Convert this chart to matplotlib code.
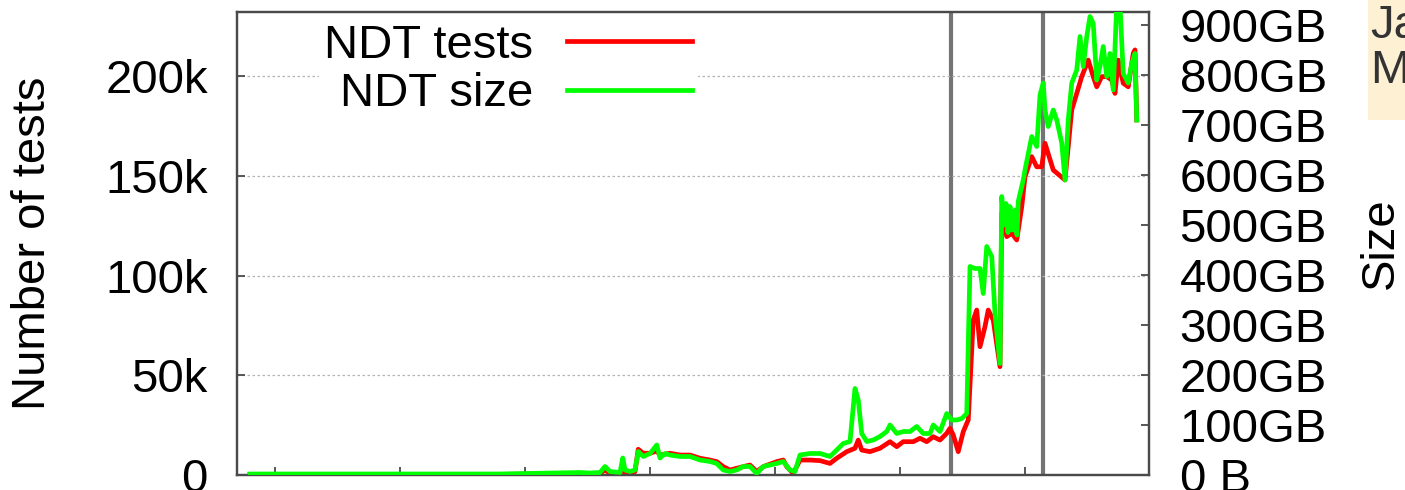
import numpy as np
import matplotlib
matplotlib.use('Agg')
import matplotlib.pyplot as plt
from matplotlib.ticker import FuncFormatter
from matplotlib.patches import Rectangle

plt.rcParams['font.family'] = ['Liberation Sans', 'DejaVu Sans']

# NDT tests per week (thousands)
tests_x = [2008.800, 2009.200, 2010.000, 2010.800, 2011.440, 2011.600, 2011.640, 2011.680, 2011.760, 2011.782,
           2011.800, 2011.880, 2011.906, 2011.946, 2012.000, 2012.054, 2012.080, 2012.160, 2012.240, 2012.320,
           2012.400, 2012.480, 2012.534, 2012.586, 2012.640, 2012.746, 2012.800, 2012.854, 2012.906, 2013.014,
           2013.066, 2013.094, 2013.146, 2013.200, 2013.280, 2013.360, 2013.440, 2013.494, 2013.574, 2013.640,
           2013.666, 2013.694, 2013.760, 2013.840, 2013.920, 2013.974, 2014.026, 2014.106, 2014.160, 2014.214,
           2014.266, 2014.320, 2014.374, 2014.400, 2014.426, 2014.466, 2014.506, 2014.546, 2014.586, 2014.614,
           2014.640, 2014.680, 2014.706, 2014.746, 2014.800, 2014.814, 2014.854, 2014.894, 2014.934, 2014.974,
           2015.000, 2015.054, 2015.094, 2015.134, 2015.160, 2015.226, 2015.320, 2015.374, 2015.414, 2015.454,
           2015.506, 2015.546, 2015.574, 2015.614, 2015.654, 2015.694, 2015.720, 2015.746, 2015.786, 2015.826,
           2015.866, 2015.880, 2015.894]
tests_k = [0.3, 0.3, 0.3, 0.3, 0.8, 0.8, 2.5, 0.8, 0.8, 4.2,
           1.0, 1.7, 12.9, 10.9, 10.9, 12.0, 10.0, 10.9, 10.0, 10.0,
           8.4, 7.5, 6.7, 4.2, 2.5, 4.2, 5.0, 1.7, 4.2, 6.7,
           7.5, 4.2, 0.8, 7.5, 7.5, 7.2, 5.8, 8.4, 11.7, 13.4,
           17.5, 12.5, 11.7, 13.4, 16.7, 14.2, 16.7, 16.7, 18.4, 16.7,
           19.2, 17.5, 20.9, 23.4, 20.1, 11.7, 21.7, 27.6, 77.7, 82.7,
           64.3, 74.4, 82.7, 77.7, 54.3, 131.2, 119.5, 121.2, 117.8, 134.5,
           149.5, 159.6, 154.5, 154.5, 166.3, 152.9, 147.9, 183.0, 191.3, 199.7,
           208.0, 199.7, 194.6, 199.7, 199.7, 198.0, 191.3, 208.0, 196.4, 194.6,
           211.4, 213.1, 178.0]

# NDT data size per week (GB)
size_x = [2008.800, 2009.200, 2010.000, 2010.800, 2011.440, 2011.520, 2011.600, 2011.640, 2011.680, 2011.760,
          2011.782, 2011.800, 2011.840, 2011.880, 2011.906, 2011.946, 2012.000, 2012.054, 2012.080, 2012.120,
          2012.160, 2012.240, 2012.320, 2012.400, 2012.480, 2012.534, 2012.586, 2012.640, 2012.694, 2012.746,
          2012.800, 2012.854, 2012.906, 2012.960, 2013.014, 2013.066, 2013.120, 2013.160, 2013.200, 2013.280,
          2013.360, 2013.440, 2013.494, 2013.546, 2013.600, 2013.640, 2013.666, 2013.694, 2013.734, 2013.786,
          2013.840, 2013.894, 2013.920, 2013.974, 2014.026, 2014.080, 2014.134, 2014.186, 2014.240, 2014.266,
          2014.320, 2014.374, 2014.414, 2014.454, 2014.494, 2014.534, 2014.560, 2014.600, 2014.640, 2014.666,
          2014.694, 2014.734, 2014.760, 2014.800, 2014.814, 2014.832, 2014.848, 2014.864, 2014.880, 2014.896,
          2014.920, 2014.936, 2014.946, 2014.986, 2015.000, 2015.054, 2015.094, 2015.120, 2015.146, 2015.160,
          2015.186, 2015.226, 2015.254, 2015.294, 2015.320, 2015.346, 2015.374, 2015.414, 2015.440, 2015.466,
          2015.494, 2015.520, 2015.546, 2015.574, 2015.600, 2015.626, 2015.654, 2015.680, 2015.706, 2015.734,
          2015.760, 2015.786, 2015.826, 2015.854, 2015.880, 2015.894]
size_gb = [2, 2, 2, 2, 5, 4, 5, 17, 7, 5,
           34, 10, 7, 10, 47, 37, 43, 60, 34, 43,
           40, 37, 37, 30, 27, 23, 10, 7, 10, 17,
           17, 3, 17, 20, 23, 27, 10, 7, 40, 43,
           43, 37, 50, 63, 67, 173, 150, 83, 67, 70,
           77, 87, 100, 83, 87, 87, 97, 83, 83, 100,
           87, 123, 110, 110, 113, 123, 417, 413, 413, 363,
           457, 437, 323, 223, 557, 500, 543, 485, 537, 490,
           530, 480, 547, 590, 610, 677, 657, 760, 784, 730,
           697, 730, 710, 664, 590, 710, 784, 810, 877, 817,
           877, 917, 903, 790, 817, 857, 797, 843, 770, 940,
           940, 803, 784, 823, 843, 710]

events = [2014.408, 2015.144]
year_ticks = [2009, 2010, 2011, 2012, 2013, 2014, 2015]
left_ticks = [0, 50, 100, 150, 200]
right_ticks = [0, 100, 200, 300, 400, 500, 600, 700, 800, 900]

fs = 34
edge = '#4a4a4a'

fig = plt.figure(figsize=(14.05, 4.9), dpi=100)
ax = fig.add_axes([0.16868, 0.030612, 0.64911, 0.944898])
ax2 = ax.twinx()

for e in events:
    ax.axvline(e, color='#747474', lw=3.0, zorder=1)

l1, = ax.plot(tests_x, tests_k, color='#ff0000', lw=3.4, solid_joinstyle='round', zorder=3)
l2, = ax2.plot(size_x, size_gb, color='#00ff00', lw=3.4, solid_joinstyle='round', zorder=3)

ax.set_xlim(2008.696, 2015.992)
ax.set_ylim(0, 232.1)
ax2.set_ylim(0, 926)

ax.set_xticks(year_ticks)
ax.set_xticklabels([])
ax.set_yticks(left_ticks)
ax.yaxis.set_major_formatter(FuncFormatter(lambda v, p: '0' if v == 0 else '%dk' % v))
ax2.set_yticks(right_ticks)
ax2.yaxis.set_major_formatter(FuncFormatter(lambda v, p: '0 B' if v == 0 else '%dGB' % v))

ax.grid(axis='y', color='#b4b4b4', lw=0.9, linestyle=(0, (2, 2)), zorder=0)

ax.tick_params(axis='x', direction='in', length=6, width=1.3, color=edge, top=False)
ax.tick_params(axis='y', direction='in', length=6, width=1.3, color=edge, labelsize=fs, pad=21, right=False)
ax2.tick_params(axis='y', direction='in', length=6, width=1.3, color=edge, labelsize=fs, pad=22)

for a in (ax, ax2):
    for s in a.spines.values():
        s.set_color(edge)
        s.set_linewidth(1.6)

leg = ax2.legend([l1, l2], ['NDT tests', 'NDT size'], loc='upper left', bbox_to_anchor=(0.0894, 0.987),
                 borderaxespad=0, borderpad=0.12, markerfirst=False, frameon=True, fontsize=fs,
                 handlelength=2.65, handletextpad=0.72, labelspacing=0.1)
leg.get_frame().set_facecolor('white')
leg.get_frame().set_edgecolor('none')
leg.get_frame().set_alpha(1)
leg.get_frame().set_boxstyle('square', pad=0)
for h in leg.get_lines():
    h.set_linewidth(3.4)

fig.text(33 / 1405, 1 - 243 / 490, 'Number of tests', rotation=90, ha='center', va='center', fontsize=fs)
fig.text(1381 / 1405, 1 - 243 / 490, 'Size', rotation=90, ha='center', va='center', fontsize=fs)

# cut-off note box at the right edge
fig.patches.append(Rectangle((1368 / 1405, 1 - 120 / 490), 1, 120 / 490, transform=fig.transFigure,
                             facecolor='#fdf0d3', edgecolor='none', zorder=0))
fig.text(1370 / 1405, 1 - 38 / 490, 'Ja', ha='left', va='baseline', fontsize=fs, color='#333333')
fig.text(1370 / 1405, 1 - 83 / 490, 'M', ha='left', va='baseline', fontsize=fs, color='#333333')

fig.savefig('out.png', dpi=100)
